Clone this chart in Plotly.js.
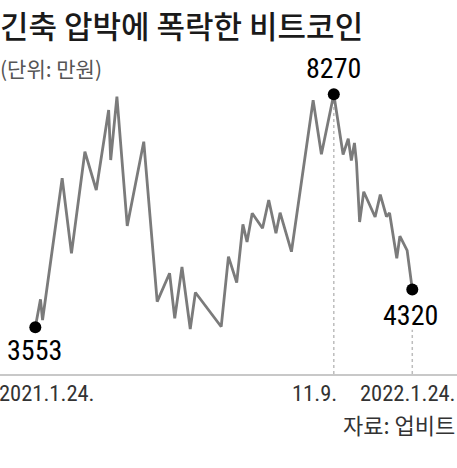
<!DOCTYPE html>
<html><head><meta charset="utf-8">
<script src="https://cdn.plot.ly/plotly-3.0.1.min.js"></script>
<style>html,body{margin:0;padding:0;background:#fff}#c{width:457px;height:468px}</style>
</head><body><div id="c"></div>
<script>
// Bitcoin price (Upbit), unit: 10,000 KRW
const dates = ["2021-01-24","2021-01-29","2021-01-31","2021-02-19","2021-02-28","2021-03-13","2021-03-24","2021-04-05","2021-04-07","2021-04-13","2021-04-23","2021-05-09","2021-05-22","2021-06-03","2021-06-08","2021-06-15","2021-06-23","2021-06-28","2021-07-23","2021-07-30","2021-08-07","2021-08-13","2021-08-17","2021-08-22","2021-09-01","2021-09-07","2021-09-14","2021-09-18","2021-09-29","2021-10-20","2021-10-28","2021-11-09","2021-11-18","2021-11-23","2021-11-26","2021-11-29","2021-12-01","2021-12-04","2021-12-08","2021-12-19","2021-12-24","2021-12-30","2022-01-02","2022-01-09","2022-01-12","2022-01-19","2022-01-24"];
const prices = [3553,4120,3701,6570,5051,7108,6333,7952,6940,8221,5604,7310,4072,4647,3736,4774,3519,4258,3565,4983,4460,5638,5280,5861,5557,6130,5456,5873,5084,8149,7055,8270,7051,7369,6930,7284,6889,5685,6298,5786,6238,5792,5867,4950,5397,5112,4320];
const tickDates = ["2021-01-24","2021-11-09","2022-01-24"];
const tickLabels = ["2021.1.24.","11.9.","2022.1.24."];
const titleText = "긴축 압박에 폭락한 비트코인";
const unitText = "(단위: 만원)";
const sourceText = "자료: 업비트";

const peakIdx = prices.indexOf(Math.max(...prices));
const lastIdx = prices.length - 1;
const markIdx = [0, peakIdx, lastIdx];

const DAY = 864e5;
const base = Date.UTC(2021,0,24);
const xRange = [base - 34.2*DAY, base + 408.3*DAY];
const yRange = [2608, 10179];

const numFont = "Liberation Sans Narrow, Roboto Condensed, Arial Narrow, Roboto, sans-serif";
const krFont = "Noto Sans CJK KR, sans-serif";

const traces = [
  {x: dates, y: prices, type: 'scatter', mode: 'lines',
   line: {color: '#7b7b7b', width: 2.8}, hoverinfo: 'skip'},
  {x: markIdx.map(i => dates[i]), y: markIdx.map(i => prices[i]), type: 'scatter', mode: 'markers',
   marker: {color: '#000', size: 12}, hoverinfo: 'skip'}
];

const tickFont = {family: numFont, size: 22.5, color: '#333'};
const annotations = [
  {text: titleText, xref: 'paper', yref: 'paper', x: 0, y: 1, xanchor: 'left', yanchor: 'middle',
   xshift: -2, yshift: -24, showarrow: false, font: {family: krFont, size: 31, weight: 500, color: '#1a1a1a'}},
  {text: unitText, xref: 'paper', yref: 'paper', x: 0, y: 1, xanchor: 'left', yanchor: 'middle',
   xshift: -2, yshift: -68, showarrow: false, font: {family: krFont, size: 21, color: '#555'}},
  {text: String(prices[0]), x: dates[0], y: prices[0], xanchor: 'center', yanchor: 'top', yshift: -5, xshift: -1,
   showarrow: false, font: {family: numFont, size: 28, color: '#000'}},
  {text: String(prices[peakIdx]), x: dates[peakIdx], y: prices[peakIdx], xanchor: 'center', yanchor: 'bottom', yshift: 7,
   showarrow: false, font: {family: numFont, size: 28, color: '#000'}},
  {text: String(prices[lastIdx]), x: dates[lastIdx], y: prices[lastIdx], xanchor: 'center', yanchor: 'top', yshift: -8, xshift: -2,
   showarrow: false, font: {family: numFont, size: 28, color: '#000'}},
  {text: tickLabels[0], x: tickDates[0], xref: 'x', yref: 'paper', y: 0, xanchor: 'left', yanchor: 'top', xshift: -37, yshift: -5,
   borderpad: 0, showarrow: false, font: tickFont},
  {text: tickLabels[1], x: tickDates[1], xref: 'x', yref: 'paper', y: 0, xanchor: 'right', yanchor: 'top', xshift: 4, yshift: -5,
   borderpad: 0, showarrow: false, font: tickFont},
  {text: tickLabels[2], x: tickDates[2], xref: 'x', yref: 'paper', y: 0, xanchor: 'center', yanchor: 'top', xshift: -4, yshift: -5,
   borderpad: 0, showarrow: false, font: tickFont},
  {text: sourceText, xref: 'paper', yref: 'paper', x: 1, y: 0, xanchor: 'right', yanchor: 'middle', xshift: -1, yshift: -50,
   borderpad: 0, showarrow: false, font: {family: krFont, size: 22, color: '#333'}}
];

const shapes = [
  {type: 'line', xref: 'x', yref: 'y', x0: dates[peakIdx], x1: dates[peakIdx], y0: yRange[0], y1: prices[peakIdx],
   line: {color: '#bdbdbd', width: 1.5, dash: 'dot'}, layer: 'below'},
  {type: 'line', xref: 'x', yref: 'paper', x0: dates[lastIdx], x1: dates[lastIdx], y0: 0, y1: 0.118,
   line: {color: '#bdbdbd', width: 1.5, dash: 'dot'}, layer: 'below'}
];

const layout = {
  width: 457, height: 468,
  margin: {l: 0, r: 0, t: 0, b: 94},
  paper_bgcolor: '#fff', plot_bgcolor: '#fff',
  showlegend: false,
  xaxis: {type: 'date', range: xRange, showgrid: false, zeroline: false, showticklabels: false, ticks: '',
          showline: true, linecolor: '#c8c8c8', linewidth: 2, fixedrange: true},
  yaxis: {range: yRange, showgrid: false, zeroline: false, showticklabels: false, ticks: '', showline: false, fixedrange: true},
  annotations: annotations,
  shapes: shapes
};

Plotly.newPlot('c', traces, layout, {displayModeBar: false, staticPlot: true});
</script>
</body></html>
